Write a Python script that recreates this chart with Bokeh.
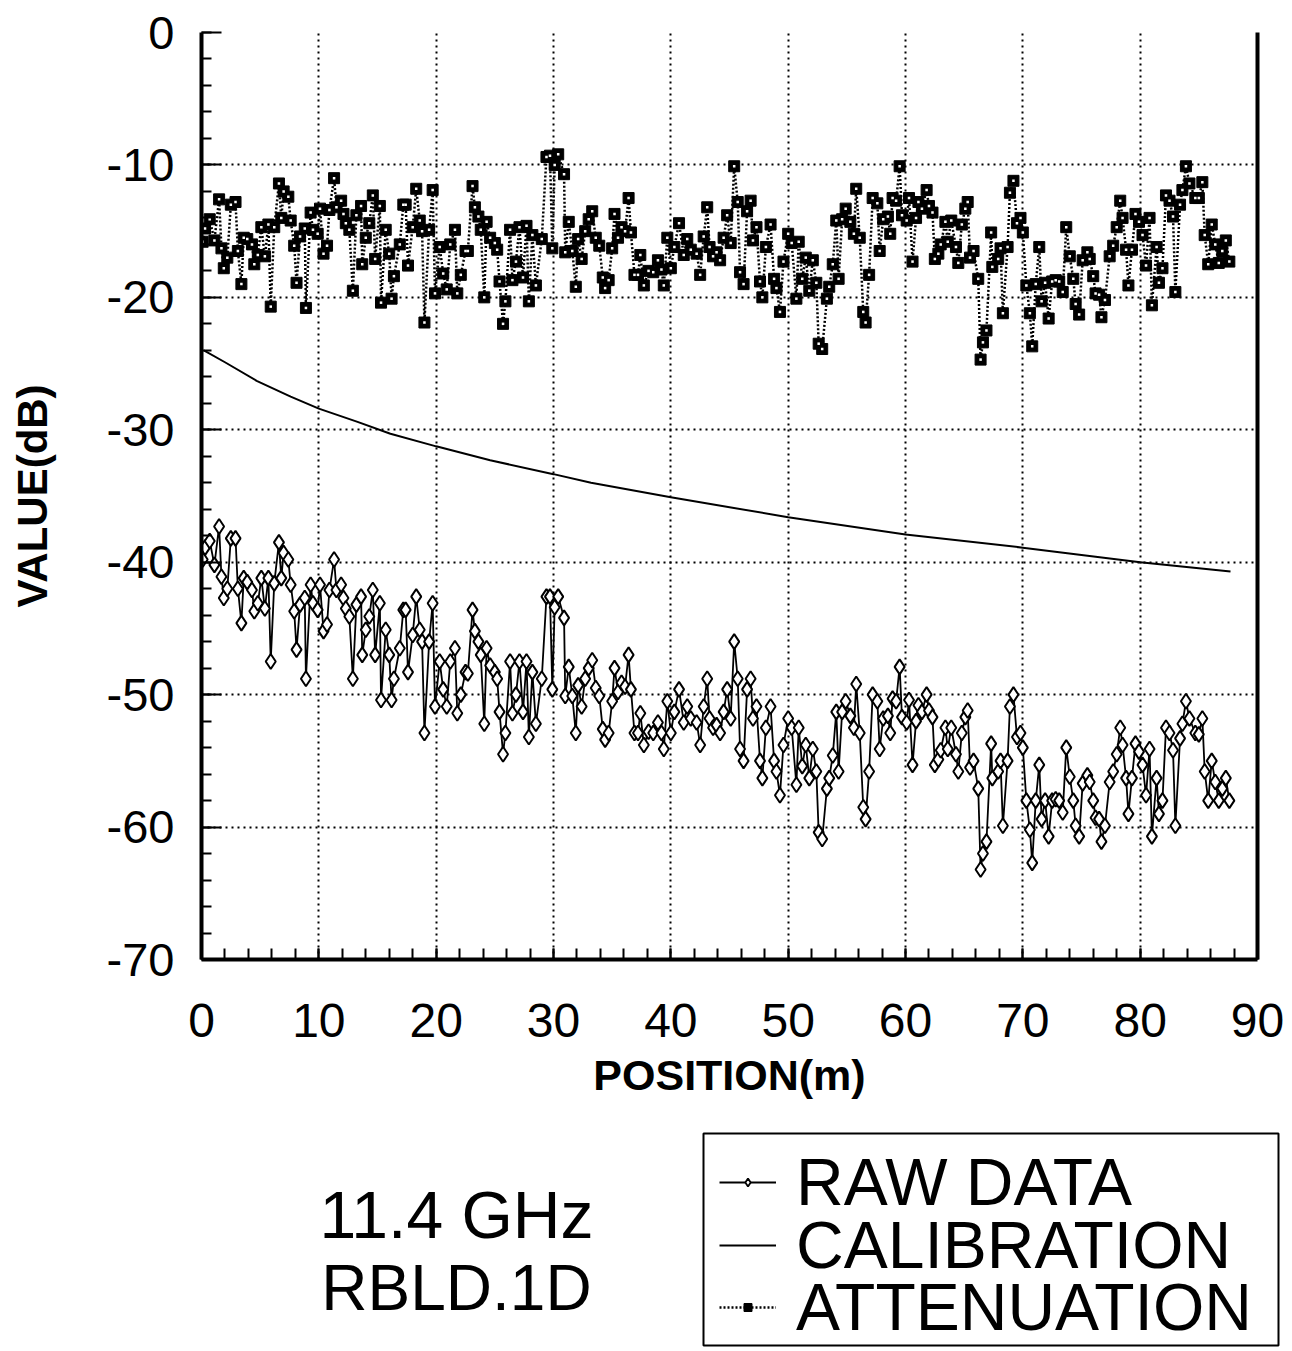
from bokeh.plotting import figure
from bokeh.models import FixedTicker, LinearAxis, Label, Legend, LegendItem, Range1d, BoxAnnotation
from bokeh.layouts import column
from bokeh.embed import file_html
from bokeh.resources import INLINE

# ---------------- data ----------------
position_m = [
    0.1, 0.3, 0.7, 1.1, 1.5, 1.7, 1.9, 2.2, 2.5, 2.9, 3.1, 3.4, 3.6, 3.9, 4.3, 4.5, 4.8, 5.1, 5.4, 5.7,
    5.9, 6.2, 6.6, 6.8, 7.0, 7.4, 7.6, 7.9, 8.1, 8.4, 8.8, 8.9, 9.3, 9.5, 9.9, 10.1, 10.4, 10.7, 10.9, 11.3,
    11.5, 11.9, 12.1, 12.3, 12.6, 12.9, 13.2, 13.6, 13.7, 14.0, 14.3, 14.6, 14.8, 15.2, 15.3, 15.7, 16.0, 16.2, 16.4, 16.9,
    17.2, 17.4, 17.6, 18.0, 18.3, 18.6, 18.8, 19.0, 19.4, 19.7, 19.9, 20.3, 20.6, 20.9, 21.2, 21.6, 21.8, 22.1, 22.5, 22.7,
    23.1, 23.3, 23.6, 23.8, 24.1, 24.3, 24.6, 25.0, 25.2, 25.4, 25.7, 25.9, 26.3, 26.5, 26.8, 27.1, 27.4, 27.7, 27.9, 28.2,
    28.5, 29.0, 29.4, 29.7, 29.9,
    30.1, 30.4, 30.9, 31.0, 31.3, 31.6, 31.9, 32.1, 32.4, 32.7, 33.0, 33.3, 33.6, 33.9, 34.2, 34.4, 34.7, 35.0, 35.2, 35.5,
    35.8, 36.1, 36.4, 36.6, 36.9, 37.2, 37.4, 37.7, 38.1, 38.5, 38.9, 39.2, 39.4, 39.7, 40.0, 40.3, 40.7, 41.1, 41.4, 41.7,
    42.2, 42.5, 42.8, 43.1, 43.3, 43.6, 43.9, 44.2, 44.5, 44.8, 45.1, 45.4, 45.7, 45.9, 46.2, 46.5, 46.8, 47.0, 47.3, 47.6,
    47.8, 48.1, 48.5, 48.8, 49.0, 49.3, 49.6, 50.0, 50.3, 50.7, 50.9, 51.2, 51.5, 51.8, 52.1, 52.4, 52.6, 52.9, 53.3, 53.5,
    53.8, 54.1, 54.3, 54.6, 54.9, 55.3, 55.6, 55.8, 56.1, 56.4, 56.6, 56.9, 57.2, 57.6, 57.8, 58.1, 58.5, 58.7, 58.9, 59.2,
    59.5, 59.7,
    60.1, 60.3, 60.6, 60.9, 61.1, 61.4, 61.8, 62.0, 62.3, 62.5, 62.8, 63.0, 63.4, 63.6, 63.9, 64.3, 64.5, 64.8, 65.1, 65.3,
    65.5, 65.8, 66.2, 66.4, 66.6, 66.9, 67.3, 67.4, 67.9, 68.1, 68.3, 68.7, 68.9, 69.2, 69.5, 69.8, 70.0, 70.3, 70.6, 70.8,
    71.1, 71.4, 71.6, 71.9, 72.2, 72.5, 72.8, 73.1, 73.4, 73.7, 74.0, 74.3, 74.5, 74.8, 75.1, 75.5, 75.7, 76.0, 76.2, 76.5,
    76.7, 77.0, 77.4, 77.7, 78.0, 78.3, 78.5, 78.8, 79.0, 79.3, 79.6, 79.9, 80.2, 80.5, 80.8, 81.0, 81.4, 81.6, 81.9, 82.2,
    82.5, 82.8, 83.0, 83.4, 83.6, 83.9, 84.2, 84.7, 85.0, 85.3, 85.5, 85.8, 86.1, 86.4, 86.7, 87.0, 87.3, 87.6,
]

raw_data_db = [
    -39.8, -38.9, -38.4, -40.2, -37.3, -41.1, -42.7, -42.0, -38.2, -38.2, -42.0, -44.6, -41.2, -41.5, -42.1, -43.7, -43.1, -41.2, -43.5, -41.2,
    -47.5, -41.6, -38.5, -41.2, -39.3, -39.8, -41.7, -43.7, -46.6, -43.2, -42.7, -48.8, -41.7, -43.1, -43.6, -41.7, -45.2, -44.7, -42.1, -39.8,
    -42.1, -41.7, -42.7, -43.5, -44.1, -48.8, -43.2, -42.6, -47.0, -45.1, -44.1, -42.1, -47.0, -43.1, -50.4, -45.1, -47.0, -50.4, -48.8, -46.5,
    -43.6, -43.6, -48.3, -45.5, -42.6, -45.1, -46.0, -52.9, -46.0, -43.1, -50.9, -47.5, -49.6, -50.9, -47.5, -46.5, -51.4, -50.0, -48.3, -48.4,
    -43.6, -45.2, -46.0, -47.0, -52.2, -46.5, -47.8, -48.3, -48.8, -51.3, -54.5, -52.9, -47.5, -51.4, -50.0, -47.5, -51.3, -47.5, -53.2, -48.3,
    -52.2, -48.8, -42.6, -42.6, -49.6,
    -43.4, -42.6, -44.2, -50.1, -47.9, -50.1, -52.9, -49.3, -50.9, -48.8, -48.0, -47.4, -49.5, -50.1, -52.6, -53.4, -52.9, -50.5, -48.0, -49.8,
    -49.1, -49.4, -47.0, -49.6, -52.9, -52.9, -51.4, -53.8, -52.8, -52.9, -52.1, -52.9, -54.1, -50.5, -52.9, -51.3, -49.6, -52.1, -50.9, -51.8,
    -52.1, -53.8, -50.9, -48.8, -51.8, -52.5, -52.3, -52.9, -51.3, -49.6, -51.8, -46.0, -48.8, -54.1, -55.0, -49.6, -48.8, -51.8, -50.9, -55.0,
    -56.3, -52.5, -50.9, -55.0, -55.8, -57.6, -53.8, -51.8, -52.5, -56.8, -52.5, -55.4, -53.8, -56.3, -54.1, -55.8, -60.4, -60.9, -57.1, -56.3,
    -54.6, -51.3, -55.8, -51.3, -50.5, -51.6, -52.5, -49.2, -52.9, -58.5, -59.4, -55.8, -50.0, -50.5, -54.1, -51.8, -51.6, -52.9, -50.3, -50.5,
    -47.9, -51.7,
    -52.1, -50.4, -55.3, -52.0, -50.8, -51.3, -50.0, -51.2, -51.7, -55.3, -54.9, -54.2, -52.5, -54.1, -52.5, -54.5, -55.8, -52.9, -51.7, -51.2,
    -55.5, -55.0, -57.1, -63.2, -62.0, -61.1, -53.7, -56.3, -55.8, -55.0, -59.9, -55.0, -50.9, -50.0, -53.2, -52.9, -54.0, -58.0, -60.2, -62.7,
    -58.0, -55.3, -59.4, -58.0, -60.7, -58.0, -57.9, -58.0, -58.9, -54.0, -56.2, -58.0, -59.9, -60.7, -56.7, -56.1, -56.6, -58.0, -59.3, -59.4,
    -61.1, -59.9, -56.6, -55.8, -54.5, -52.5, -53.8, -56.3, -59.0, -56.3, -53.7, -54.3, -55.3, -57.6, -54.1, -60.7, -56.3, -59.0, -58.0, -52.5,
    -52.9, -54.2, -59.9, -53.3, -52.2, -50.5, -51.8, -52.9, -53.0, -51.8, -55.8, -58.0, -55.0, -56.6, -58.0, -57.1, -56.3, -58.0,
]

attenuation_db = [
    -15.8, -14.8, -14.1, -15.7, -12.6, -16.3, -17.8, -17.0, -13.0, -12.8, -16.5, -19.0, -15.5, -15.6, -16.0, -17.5, -16.8, -14.7, -16.9, -14.5,
    -20.7, -14.7, -11.4, -14.0, -12.0, -12.4, -14.2, -16.1, -18.9, -15.4, -14.8, -20.8, -13.6, -14.9, -15.2, -13.3, -16.7, -16.1, -13.4, -11.0,
    -13.2, -12.7, -13.7, -14.4, -14.9, -19.5, -13.8, -13.1, -17.5, -15.5, -14.4, -12.3, -17.1, -13.1, -20.4, -14.9, -16.7, -20.1, -18.4, -16.0,
    -13.0, -13.0, -17.6, -14.7, -11.8, -14.2, -15.0, -21.9, -14.9, -11.9, -19.7, -16.2, -18.2, -19.4, -16.0, -14.9, -19.7, -18.3, -16.5, -16.5,
    -11.6, -13.2, -13.9, -14.9, -20.0, -14.3, -15.5, -15.9, -16.4, -18.8, -22.0, -20.3, -14.9, -18.7, -17.3, -14.7, -18.5, -14.6, -20.3, -15.3,
    -19.1, -15.6, -9.4, -9.3, -16.3,
    -10.0, -9.2, -10.7, -16.6, -14.3, -16.5, -19.2, -15.6, -17.1, -15.0, -14.1, -13.5, -15.5, -16.1, -18.5, -19.3, -18.7, -16.3, -13.7, -15.5,
    -14.7, -15.0, -12.5, -15.1, -18.3, -18.3, -16.8, -19.1, -18.0, -18.1, -17.2, -17.9, -19.1, -15.5, -17.8, -16.2, -14.4, -16.8, -15.6, -16.4,
    -16.7, -18.3, -15.4, -13.2, -16.2, -16.9, -16.6, -17.2, -15.5, -13.8, -15.9, -10.1, -12.8, -18.1, -19.0, -13.5, -12.7, -15.7, -14.7, -18.8,
    -20.0, -16.2, -14.5, -18.6, -19.3, -21.1, -17.3, -15.2, -15.9, -20.1, -15.8, -18.6, -17.0, -19.5, -17.2, -18.9, -23.5, -23.9, -20.1, -19.2,
    -17.5, -14.2, -18.6, -14.1, -13.3, -14.3, -15.2, -11.8, -15.5, -21.1, -21.9, -18.3, -12.5, -12.9, -16.5, -14.1, -13.9, -15.2, -12.5, -12.7,
    -10.1, -13.8,
    -14.2, -12.5, -17.3, -14.0, -12.8, -13.3, -11.9, -13.1, -13.6, -17.1, -16.7, -16.0, -14.3, -15.8, -14.2, -16.2, -17.4, -14.5, -13.3, -12.8,
    -17.0, -16.5, -18.6, -24.7, -23.4, -22.5, -15.1, -17.7, -17.1, -16.3, -21.2, -16.2, -12.1, -11.2, -14.4, -14.0, -15.1, -19.1, -21.2, -23.7,
    -19.0, -16.2, -20.3, -18.9, -21.6, -18.8, -18.7, -18.8, -19.6, -14.7, -16.9, -18.6, -20.5, -21.3, -17.2, -16.6, -17.1, -18.4, -19.7, -19.8,
    -21.5, -20.2, -16.9, -16.1, -14.7, -12.7, -14.0, -16.4, -19.1, -16.4, -13.7, -14.3, -15.3, -17.6, -14.0, -20.6, -16.2, -18.9, -17.8, -12.3,
    -12.7, -13.9, -19.6, -13.0, -11.9, -10.1, -11.4, -12.5, -12.5, -11.3, -15.3, -17.5, -14.5, -16.0, -17.4, -16.5, -15.7, -17.3,
]

calibration_pos = [0.2, 2.0, 4.7, 7.6, 10.0, 13.3, 16.1, 20.0, 24.6, 30.0, 33.2, 40.0, 50.0, 60.0, 70.0, 80.0, 87.7]
calibration_db = [-24.0, -24.9, -26.3, -27.5, -28.4, -29.4, -30.3, -31.25, -32.3, -33.35, -34.0, -35.1, -36.6, -37.9, -38.9, -40.0, -40.7]

x_ticks = [0, 10, 20, 30, 40, 50, 60, 70, 80, 90]
y_ticks = [-70, -60, -50, -40, -30, -20, -10, 0]
x_minor = list(range(0, 91, 2))
y_minor = list(range(-70, 1, 2))
y_tick_text = {t: str(t) for t in y_ticks}

legend_labels = ["RAW DATA", "CALIBRATION", "ATTENUATION"]
caption_lines = ["11.4 GHz", "RBLD.1D"]

assert len(position_m) == len(raw_data_db) == len(attenuation_db), (len(position_m), len(raw_data_db), len(attenuation_db))

FONT = "Liberation Sans"

# ---------------- main plot ----------------
p = figure(width=1292, height=1110, x_range=Range1d(0, 90), y_range=Range1d(-70, 0),
           output_backend="svg", toolbar_location=None,
           min_border_left=201, min_border_right=35, min_border_top=32, min_border_bottom=151)
p.frame_align = False
p.outline_line_color = None
p.background_fill_color = "white"
p.border_fill_color = "white"

for ax in (p.xaxis[0], p.yaxis[0]):
    ax.axis_line_width = 4
    ax.axis_line_color = "black"
    ax.major_tick_line_width = 2
    ax.minor_tick_line_width = 2
    ax.major_tick_out = 0
    ax.minor_tick_out = 0
    ax.major_label_text_font = FONT
    ax.major_label_text_color = "black"
    ax.axis_label_text_font = FONT
    ax.axis_label_text_font_style = "bold"
    ax.axis_label_text_color = "black"

p.xaxis.ticker = FixedTicker(ticks=x_ticks, minor_ticks=x_minor)
p.yaxis.ticker = FixedTicker(ticks=y_ticks, minor_ticks=y_minor)
p.yaxis.major_label_overrides = y_tick_text
p.xaxis.major_tick_in = 11
p.xaxis.minor_tick_in = 11
p.yaxis.major_tick_in = 20
p.yaxis.minor_tick_in = 10
p.xaxis.major_label_text_font_size = "48px"
p.xaxis.major_label_standoff = 44
p.yaxis.major_label_text_font_size = "47px"
p.yaxis.major_label_standoff = 27
p.xaxis.axis_label = "POSITION(m)"
p.xaxis.axis_label_text_font_size = "43px"
p.xaxis.axis_label_standoff = 11
p.yaxis.axis_label = "VALUE(dB)"
p.yaxis.axis_label_text_font_size = "42px"
p.yaxis.axis_label_standoff = 48

right_axis = LinearAxis(axis_line_width=4, axis_line_color="black",
                        ticker=FixedTicker(ticks=[], minor_ticks=[]),
                        major_tick_line_color=None, minor_tick_line_color=None)
p.add_layout(right_axis, "right")

p.xgrid.ticker = FixedTicker(ticks=x_ticks)
p.ygrid.ticker = FixedTicker(ticks=y_ticks)
for g in (p.xgrid[0], p.ygrid[0]):
    g.grid_line_color = "black"
    g.grid_line_dash = "2 4"
    g.grid_line_width = 2

# calibration
p.line(calibration_pos, calibration_db, line_color="black", line_width=2)
# raw data
p.line(position_m, raw_data_db, line_color="black", line_width=1.8)
p.scatter(position_m, raw_data_db, marker="diamond", size=15, fill_color="white",
          line_color="black", line_width=2)
# attenuation
p.line(position_m, attenuation_db, line_color="black", line_width=2.5, line_dash="2 2")
p.scatter(position_m, attenuation_db, marker="square", size=11, fill_color="black", line_color="black")
p.scatter(position_m, attenuation_db, marker="square", size=2.5, fill_color="white", line_color=None)

# ---------------- lower panel: caption + legend ----------------
p2 = figure(width=1292, height=241, x_range=Range1d(0, 1292), y_range=Range1d(0, 241),
            output_backend="svg", toolbar_location=None, min_border=0,
            x_axis_type=None, y_axis_type=None)
p2.frame_align = False
p2.grid.visible = False
p2.outline_line_color = None
p2.background_fill_color = "white"
p2.border_fill_color = "white"

p2.add_layout(Label(x=456, y=137, text=caption_lines[0], text_align="center", text_baseline="alphabetic",
                    text_font=FONT, text_font_size="66px", text_color="black"))
p2.add_layout(Label(x=456, y=64, text=caption_lines[1], text_align="center", text_baseline="alphabetic",
                    text_font=FONT, text_font_size="64px", text_color="black"))

# legend frame (panel units are pixels)
p2.add_layout(BoxAnnotation(left=703, right=1278, bottom=6, top=218, fill_alpha=0,
                            line_color="black", line_width=2, line_alpha=1.0))

# legend renderers: same series, they fall outside this panel's ranges so only the legend keys show
r1 = p2.line(position_m, raw_data_db, line_color="black", line_width=1.8)
r1m = p2.scatter(position_m, raw_data_db, marker="diamond", size=15, fill_color="white",
                 line_color="black", line_width=1.8)
r2 = p2.line(calibration_pos, calibration_db, line_color="black", line_width=1.8)
r3 = p2.line(position_m, attenuation_db, line_color="black", line_width=2.5, line_dash="2 2")
r3m = p2.scatter(position_m, attenuation_db, marker="square", size=9, fill_color="black", line_color="black")

legend_rows = [(legend_labels[0], [r1, r1m], 131),
               (legend_labels[1], [r2], 68),
               (legend_labels[2], [r3, r3m], 6)]
for text, rends, ypos in legend_rows:
    lg = Legend(items=[LegendItem(label=text, renderers=rends)],
                location=(719, ypos), label_text_font=FONT, label_text_font_size="66px",
                label_text_color="black", glyph_width=57, glyph_height=20, label_standoff=20,
                spacing=0, padding=0, border_line_color=None,
                background_fill_alpha=0.0, margin=0)
    p2.add_layout(lg)

layout = column(p, p2, spacing=0)
open("out.html", "w").write(file_html(layout, INLINE))
